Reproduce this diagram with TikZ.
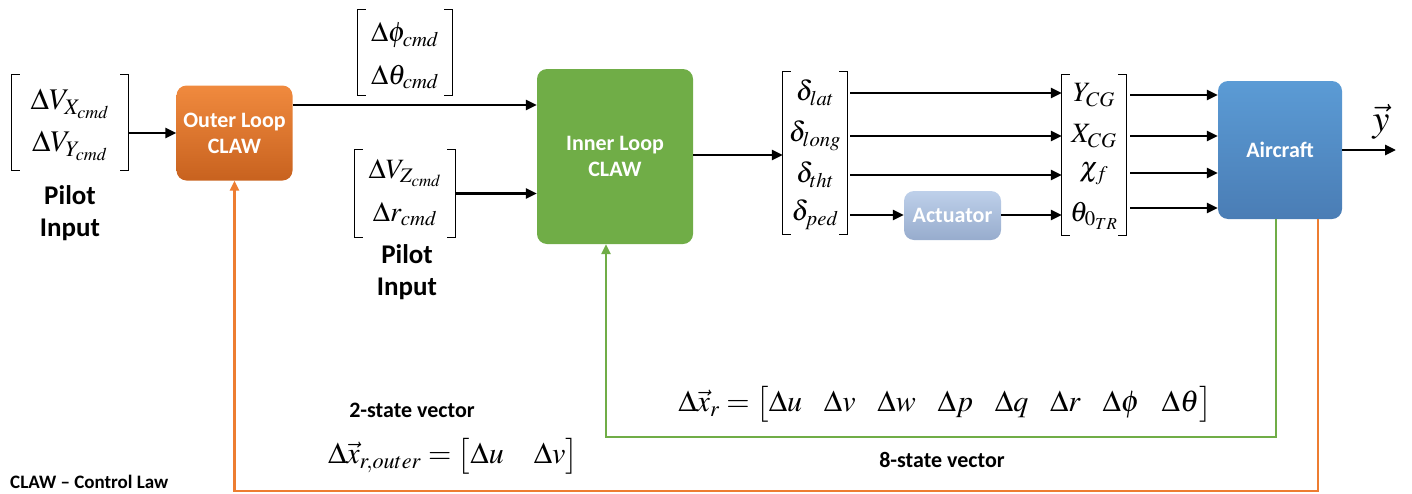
\RequirePackage{fix-cm}
\documentclass[tikz,border=0pt]{standalone}
\usepackage{amsmath}
\usepackage{mathptmx}
\usepackage{fontspec}
\setmainfont{Carlito}
\usetikzlibrary{arrows.meta}
\definecolor{orA}{HTML}{F08A3E}
\definecolor{orB}{HTML}{C8621F}
\definecolor{orL}{HTML}{ED7D31}
\definecolor{grn}{HTML}{70AD47}
\definecolor{acA}{HTML}{BED0EA}
\definecolor{acB}{HTML}{97ACCD}
\definecolor{blA}{HTML}{5B9BD5}
\definecolor{blB}{HTML}{4A7DB5}
\newcommand\vbrackets[1]{%
  \draw[brk] ([xshift=8pt]#1.north west) -- (#1.north west) -- (#1.south west) -- ([xshift=8pt]#1.south west);
  \draw[brk] ([xshift=-8pt]#1.north east) -- (#1.north east) -- (#1.south east) -- ([xshift=-8pt]#1.south east);}
\tikzset{
  arr/.style={line width=2.7pt, -{Triangle[length=11pt,width=10pt]}},
  fb/.style={line width=2.4pt, -{Triangle[length=10pt,width=9pt]}},
  blk/.style={rounded corners=10pt, text=white, font=\fontsize{22}{26}\selectfont\bfseries, align=center, inner sep=0},
  brk/.style={line width=1.2pt},
  vecbox/.style={inner sep=0, draw=none},
  m/.style={font=\fontsize{28}{32}\selectfont, inner sep=0},
  mbig/.style={font=\fontsize{30}{34}\selectfont, inner sep=0},
  meq/.style={font=\fontsize{30}{34}\selectfont, inner sep=0},
  lbl/.style={font=\fontsize{27}{32}\selectfont\bfseries, align=center, inner sep=0},
  sub/.style={font=\fontsize{22}{26}\selectfont\bfseries, inner sep=0},
}
\begin{document}
\begin{tikzpicture}[x=1pt,y=-1pt]
\useasboundingbox (0,0) rectangle (1412,493);
% blocks
\node[blk, top color=orA, bottom color=orB, minimum width=116pt, minimum height=95pt] (outer) at (234.5,133) {Outer Loop\\CLAW};
\node[blk, fill=grn, minimum width=156pt, minimum height=175pt] (inner) at (615,156.5) {Inner Loop\\CLAW};
\node[blk, top color=acA, bottom color=acB, minimum width=97pt, minimum height=49pt] (act) at (952.5,215.5) {Actuator};
\node[blk, top color=blA, bottom color=blB, minimum width=124pt, minimum height=138pt] (air) at (1280,150) {Aircraft};
% left vector
\node[vecbox, minimum width=116pt, minimum height=95pt] (lv) at (70,122.5) {};
\vbrackets{lv}
\node[mbig] (vx) at (70,104) {$\Delta V_{X_{cmd}}$};
\node[mbig] (vy) at (70,146) {$\Delta V_{Y_{cmd}}$};
\node[lbl] (pil1) at (70,213) {Pilot\\Input};
% top vector
\node[vecbox, minimum width=94pt, minimum height=85pt] (tv) at (405,52.5) {};
\vbrackets{tv}
\node[m] (phi) at (405,35) {$\Delta\phi_{cmd}$};
\node[m] (tht) at (405,77) {$\Delta\theta_{cmd}$};
% middle vector
\node[vecbox, minimum width=100pt, minimum height=87pt] (mv) at (405,193.5) {};
\vbrackets{mv}
\node[m] (vz) at (405,173) {$\Delta V_{Z_{cmd}}$};
\node[m] (rc) at (405,214) {$\Delta r_{cmd}$};
\node[lbl] (pil2) at (407,272) {Pilot\\Input};
% delta vector
\node[vecbox, minimum width=64pt, minimum height=162pt] (dv) at (815,153) {};
\vbrackets{dv}
\node[m] (dlat) at (815,93) {$\delta_{lat}$};
\node[m] (dlong) at (815,136) {$\delta_{long}$};
\node[m] (dtht) at (815,175) {$\delta_{tht}$};
\node[m] (dped) at (815,215) {$\delta_{ped}$};
% right vector
\node[vecbox, minimum width=64pt, minimum height=160pt] (rv) at (1094,155) {};
\vbrackets{rv}
\node[m] (ycg) at (1094,95) {$Y_{CG}$};
\node[m] (xcg) at (1094,136) {$X_{CG}$};
\node[m] (chi) at (1094,174) {$\chi_{f}$};
\node[m] (th0) at (1094,216) {$\theta_{0_{TR}}$};
% output label
\node[font=\fontsize{38}{42}\selectfont, inner sep=0] (yv) at (1381,122) {$\vec{y}$};
\coordinate (yout) at (1396,150);
% connections
\draw[arr] (lv.east |- outer.west) -- (outer.west);
\draw[arr] ([yshift=28pt]outer.east) -- ([yshift=28pt]outer.east -| inner.west);
\draw[arr] (mv.east) -- (mv.east -| inner.west);
\draw[arr] ([yshift=1.5pt]inner.east) -- ([yshift=1.5pt]inner.east -| dv.west);
\draw[arr] ([xshift=3pt]dv.east |- dlat) -- (rv.west |- dlat);
\draw[arr] ([xshift=3pt]dv.east |- dlong) -- (rv.west |- dlong);
\draw[arr] ([xshift=3pt]dv.east |- dtht) -- (rv.west |- dtht);
\draw[arr] ([xshift=3pt]dv.east |- dped) -- (act.west |- dped);
\draw[arr] (act.east |- dped) -- (rv.west |- dped);
\draw[arr] ([xshift=4pt]rv.east |- ycg) -- (air.west |- ycg);
\draw[arr] ([xshift=4pt]rv.east |- xcg) -- (air.west |- xcg);
\draw[arr] ([xshift=4pt]rv.east |- 0,173) -- (air.west |- 0,173);
\draw[arr] ([xshift=4pt]rv.east |- 0,208) -- (air.west |- 0,208);
\draw[arr] (air.east) -- (yout);
% feedback
\draw[fb, grn] ([xshift=-4pt]air.south) -- ++(0,218) -| (inner.south -| 606,0);
\draw[fb, orL] ([xshift=38pt]air.south) -- ++(0,272) -| (outer.south);
% equations and labels
\node[meq] (eq8) at (945,404) {$\Delta\vec{x}_r=\bigl[\Delta u\enspace\ \Delta v\enspace\ \Delta w\enspace\ \Delta p\enspace\ \Delta q\enspace\ \Delta r\enspace\ \Delta\phi\enspace\ \Delta\theta\bigr]$};
\node[sub] (s8) at (942,460) {8-state vector};
\node[sub] (s2) at (412,410) {2-state vector};
\node[meq] (eq2) at (453,456) {$\Delta\vec{x}_{r,outer}=\bigl[\Delta u\quad \Delta v\bigr]$};
\node[font=\fontsize{19}{22}\selectfont\bfseries, anchor=west, inner sep=0] (note) at (10,482) {CLAW – Control Law};
\end{tikzpicture}
\end{document}
